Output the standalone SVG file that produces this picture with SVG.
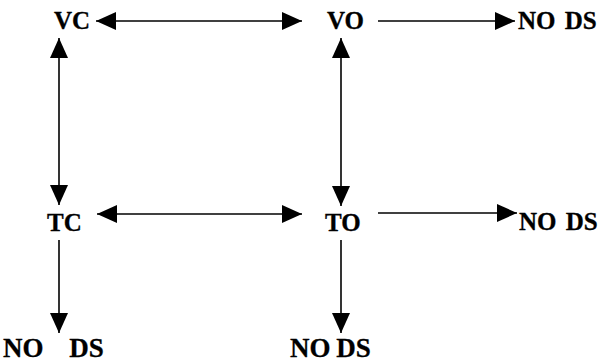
<svg xmlns="http://www.w3.org/2000/svg" width="602" height="362" viewBox="0 0 602 362">
<style>
.lbl{font-family:"Liberation Serif","Times New Roman",serif;font-weight:bold;font-size:25px;fill:#000;stroke:#000;stroke-width:0.3}
.big{font-size:27px}
.ln{stroke:#000;stroke-width:1.6;fill:none}
</style>
<defs>
<marker id="ah" markerUnits="userSpaceOnUse" viewBox="0 0 20 18" refX="20" refY="9" markerWidth="20" markerHeight="18" orient="auto-start-reverse">
<path d="M0,0 L20,9 L0,18 z" fill="#000"/>
</marker>
</defs>
<rect width="602" height="362" fill="#fff"/>
<g id="connectors">
<line class="ln" x1="96" y1="21" x2="302" y2="21" marker-start="url(#ah)" marker-end="url(#ah)"/>
<line class="ln" x1="378" y1="21" x2="515" y2="21" marker-end="url(#ah)"/>
<line class="ln" x1="59" y1="38" x2="59" y2="205" marker-start="url(#ah)" marker-end="url(#ah)"/>
<line class="ln" x1="341" y1="38" x2="341" y2="206" marker-start="url(#ah)" marker-end="url(#ah)"/>
<line class="ln" x1="97" y1="214" x2="302" y2="214" marker-start="url(#ah)" marker-end="url(#ah)"/>
<line class="ln" x1="378" y1="213" x2="517" y2="213" marker-end="url(#ah)"/>
<line class="ln" x1="59" y1="240" x2="59" y2="333" marker-end="url(#ah)"/>
<line class="ln" x1="341" y1="240" x2="341" y2="333" marker-end="url(#ah)"/>
</g>
<g id="VC"><text class="lbl" x="54" y="29">VC</text></g>
<g id="VO"><text class="lbl" x="327" y="29">VO</text></g>
<g id="VO_NODS"><text class="lbl" x="518" y="29" word-spacing="3">NO DS</text></g>
<g id="TC"><text class="lbl" x="47" y="231">TC</text></g>
<g id="TO"><text class="lbl" x="325" y="231">TO</text></g>
<g id="TO_NODS"><text class="lbl" x="519" y="230" word-spacing="3">NO DS</text></g>
<g id="TC_NODS"><text class="lbl big" x="3" y="357" word-spacing="19">NO DS</text></g>
<g id="TO_NODS2"><text class="lbl big" x="290" y="357" word-spacing="-1">NO DS</text></g>
</svg>
